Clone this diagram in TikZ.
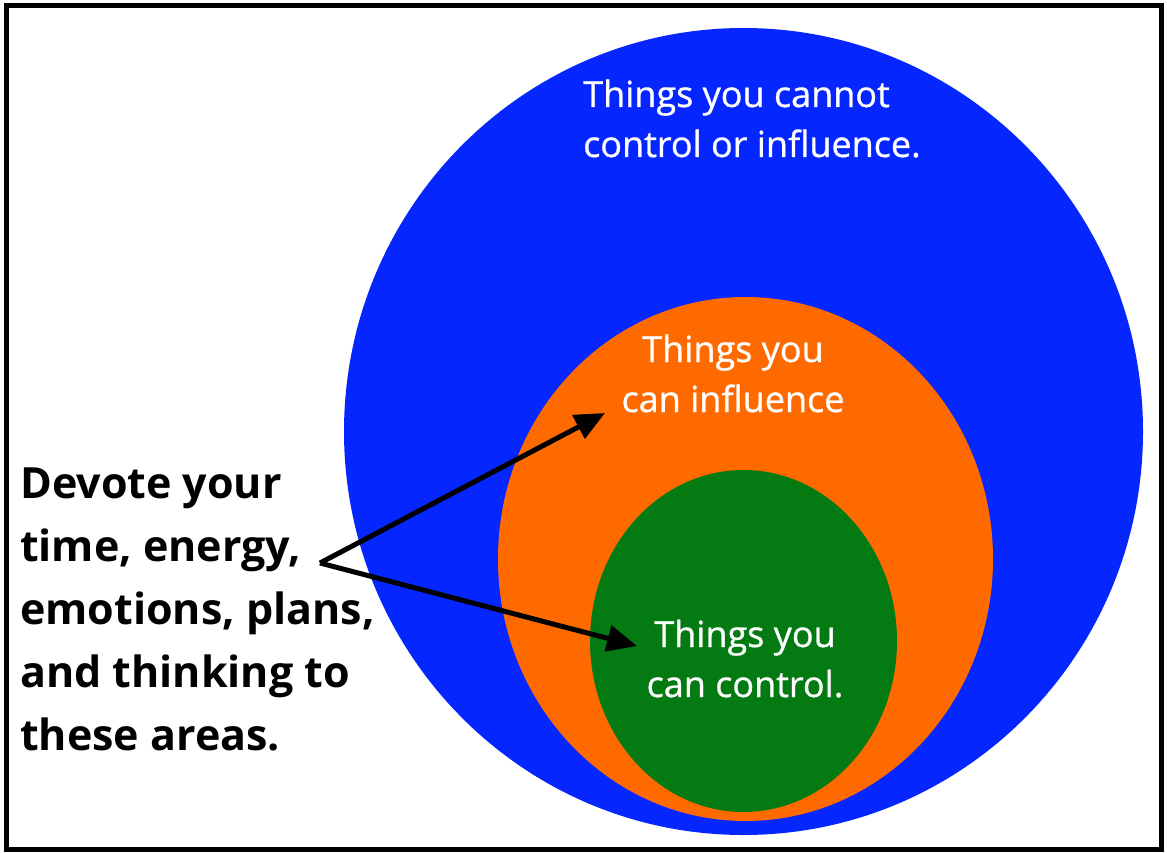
\documentclass[tikz,border=0pt]{standalone}
\usepackage{fontspec}
\setmainfont{Open Sans}
\newfontfamily\labelfont{Open Sans}[FakeBold=0.8]
\usetikzlibrary{arrows.meta, positioning, shapes.geometric}
\definecolor{cblue}{HTML}{0526FF}
\definecolor{corange}{HTML}{FF6A00}
\definecolor{cgreen}{HTML}{047A12}

\begin{document}
\begin{tikzpicture}[x=1pt, y=-1pt,
      ring/.style={ellipse, inner sep=0pt, draw=none},
      label/.style={text=white, inner sep=0pt, font=\labelfont\fontsize{36}{50}\selectfont},
      arr/.style={-{Triangle[length=30pt, width=26pt]}, line width=5pt, black}]
    \useasboundingbox (0,0) rectangle (1167,853);
    \draw[line width=5pt] (6,5.5) rectangle (1161.5,849.5);
    \node[ring, fill=cblue, minimum width=799pt, minimum height=807pt] (outer) at (743.5,431.5) {};
    \node[ring, fill=corange, minimum width=495pt, minimum height=524pt] (middle) at (745.5,559) {};
    \node[ring, fill=cgreen, minimum width=307pt, minimum height=342pt] (inner) at (743.5,641) {};
    % base anchor sits on the last line
    \node[label, align=left, anchor=base west] (cannot) at (583,157) {Things you cannot\\control or influence.};
    \node[label, align=center, anchor=base] (influence) at (733,412) {Things you\\can influence};
    \node[label, align=center, anchor=base] (control) at (745,697) {Things you\\can control.};
    \node[inner sep=0pt, align=left, anchor=base west,
          font=\bfseries\fontsize{43}{63}\selectfont] (devote) at (20,750)
          {Devote your\\time, energy,\\emotions, plans,\\and thinking to\\these areas.};
    \coordinate (hub) at (320,563);
    \coordinate (toinfl) at (605,413);
    \coordinate (toctrl) at (637,646);
    \draw[arr] (hub) -- (toinfl);
    \draw[arr] (hub) -- (toctrl);
  \end{tikzpicture}
\end{document}
